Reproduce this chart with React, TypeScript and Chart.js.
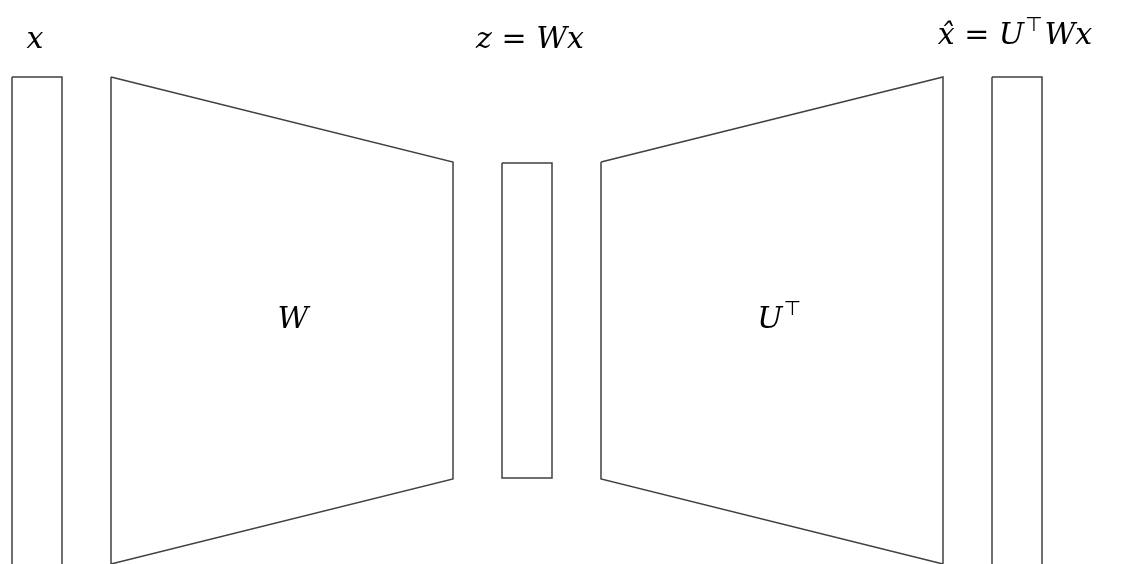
import React, { useEffect, useRef } from "react";
import { Chart, registerables } from "chart.js";
Chart.register(...registerables);

type P = { x: number; y: number };
const inputBox: P[] = [{ x: 12, y: 77 }, { x: 62, y: 77 }, { x: 62, y: 566 }, { x: 12, y: 566 }, { x: 12, y: 77 }];
const encoder: P[] = [{ x: 111, y: 77 }, { x: 453, y: 162 }, { x: 453, y: 479 }, { x: 111, y: 564 }, { x: 111, y: 77 }];
const codeBox: P[] = [{ x: 502, y: 163 }, { x: 552, y: 163 }, { x: 552, y: 478 }, { x: 502, y: 478 }, { x: 502, y: 163 }];
const decoder: P[] = [{ x: 601, y: 162 }, { x: 943, y: 77 }, { x: 943, y: 564 }, { x: 601, y: 479 }, { x: 601, y: 162 }];
const outputBox: P[] = [{ x: 992, y: 77 }, { x: 1042, y: 77 }, { x: 1042, y: 566 }, { x: 992, y: 566 }, { x: 992, y: 77 }];
const shapes = [inputBox, encoder, codeBox, decoder, outputBox];

// each label: segments [text, kind] where kind: "i" italic, "r" upright, "s" superscript upright
type Seg = [string, "i" | "r" | "s"];
const labels: Seg[][] = [
  [["x", "i"]],
  [["z", "i"], [" = ", "r"], ["Wx", "i"]],
  [["x̂", "i"], [" = ", "r"], ["U", "i"], ["⊤", "s"], ["Wx", "i"]],
  [["W", "i"]],
  [["U", "i"], ["⊤", "s"]],
];
const labelX = [35, 530, 1015, 293, 780];
const labelY = [40, 40, 36, 320, 320];

export default function App() {
  const ref = useRef<HTMLCanvasElement>(null);
  useEffect(() => {
    document.body.style.margin = "0";
    const fontOf = (k: string) =>
      k === "i" ? "italic 30px 'DejaVu Serif', serif" : k === "r" ? "30px 'DejaVu Serif', serif" : "20px 'DejaVu Sans', sans-serif";
    const textPlugin = {
      id: "texts",
      afterDatasetsDraw(chart: any) {
        const { ctx, scales } = chart;
        ctx.save();
        ctx.fillStyle = "#000";
        ctx.textAlign = "left";
        ctx.textBaseline = "middle";
        labels.forEach((segs, i) => {
          let total = 0;
          segs.forEach(([t, k]) => { ctx.font = fontOf(k); total += ctx.measureText(t).width + (k === "s" ? 3 : 0); });
          let x = scales.x.getPixelForValue(labelX[i]) - total / 2;
          const y = scales.y.getPixelForValue(labelY[i]);
          segs.forEach(([t, k]) => {
            ctx.font = fontOf(k);
            ctx.fillText(t, x + (k === "s" ? 1 : 0), k === "s" ? y - 10 : y);
            x += ctx.measureText(t).width + (k === "s" ? 3 : 0);
          });
        });
        ctx.restore();
      },
    };
    const chart = new Chart(ref.current!, {
      type: "scatter",
      data: {
        datasets: shapes.map((s) => ({
          data: s,
          showLine: true,
          borderColor: "#404040",
          borderWidth: 1.5,
          pointRadius: 0,
          fill: false,
        })),
      },
      options: {
        responsive: false,
        animation: false,
        layout: { padding: 0 },
        plugins: { legend: { display: false }, tooltip: { enabled: false } },
        scales: {
          x: { type: "linear", min: 0, max: 1147, display: false },
          y: { type: "linear", min: 0, max: 564, reverse: true, display: false },
        },
      },
      plugins: [textPlugin],
    });
    return () => chart.destroy();
  }, []);
  return <canvas ref={ref} width={1147} height={564} style={{ display: "block" }} />;
}
